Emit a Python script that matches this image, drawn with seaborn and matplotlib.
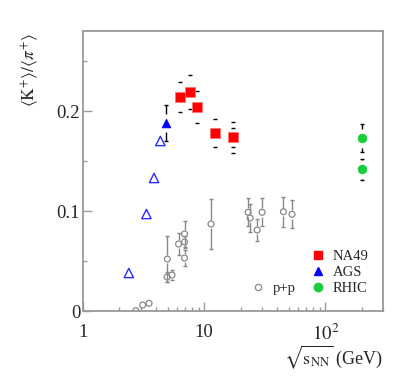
import numpy as np
import seaborn as sns
import matplotlib
matplotlib.use("Agg")
import matplotlib.pyplot as plt
from matplotlib.lines import Line2D
from matplotlib.ticker import LogLocator, MultipleLocator, NullFormatter, FuncFormatter

# --- datos ---
# NA49 (Pb+Pb)
na49_x = [6.3, 7.6, 8.8, 12.3, 17.3]
na49_y = [0.214, 0.219, 0.204, 0.178, 0.174]
na49_err = [0.015, 0.017, 0.016, 0.014, 0.0155]
na49_err_in = [0, 0, 0, 0, 0.0095]

# AGS (Au+Au)
ags_x = [4.85]
ags_y = [0.188]
ags_err = [0.018]
ags_open_x = [2.39, 3.34, 3.86, 4.35]
ags_open_y = [0.038, 0.097, 0.133, 0.170]

# RHIC
rhic_x = [200, 200]
rhic_y = [0.173, 0.142]
rhic_err = [0.014, 0.0105]

# p+p
pp_x = [2.73, 3.11, 3.51, 4.97, 4.95, 5.43, 6.15, 6.89, 6.89, 6.89,
        11.4, 23.1, 24.0, 27.4, 30.1, 45.2, 53.2]
pp_y = [0.0003, 0.006, 0.0077, 0.052, 0.034, 0.036, 0.067, 0.077, 0.069, 0.053,
        0.087, 0.0987, 0.093, 0.081, 0.0987, 0.0993, 0.0967]
pp_err = [0, 0, 0, 0.023, 0.005, 0.005, 0.011, 0.013, 0.006, 0.008,
          0.025, 0.014, 0.014, 0.011, 0.014, 0.015, 0.014]

sns.set_style("ticks")
plt.rcParams['font.family'] = ['Liberation Serif', 'DejaVu Serif']
plt.rcParams['mathtext.fontset'] = 'stix'

fig = plt.figure(figsize=(4.15, 3.89), dpi=100)
ax = fig.add_axes([0.2, 0.2005, 0.7229, 0.7198])
ax.set_xscale('log')


def barras(x, y, err, gap, color, lw=1.0, cap=1.7, linea=True):
    # barras de error con hueco alrededor del marcador (estilo ROOT)
    x = np.asarray(x, float)
    y = np.asarray(y, float)
    err = np.asarray(err, float)
    m = err > 0
    if linea:
        g = err > gap
        ax.vlines(x[g], y[g] + gap, y[g] + err[g], color=color, lw=lw, zorder=2)
        ax.vlines(x[g], y[g] - err[g], y[g] - gap, color=color, lw=lw, zorder=2)
    ax.errorbar(x[m], y[m], yerr=err[m], fmt='none', elinewidth=0,
                capsize=cap, capthick=lw, ecolor=color, zorder=2)


# p+p
barras(pp_x, pp_y, pp_err, 0.0042, '#888888', lw=1.0)
sns.scatterplot(x=pp_x, y=pp_y, ax=ax, marker='o', s=18, facecolors='none',
                edgecolor='#888888', linewidth=0.9, legend=False, zorder=3)

# NA49
barras(na49_x, na49_y, na49_err, 0.01, 'black', lw=1.0, linea=False)
barras(na49_x, na49_y, na49_err_in, 0.01, 'black', lw=1.0, linea=False)
sns.scatterplot(x=na49_x, y=na49_y, ax=ax, marker='s', s=42, color='#ff0000',
                edgecolor='#ff7070', linewidth=0.5, legend=False, zorder=3)

# AGS
barras(ags_x, ags_y, ags_err, 0.009, 'black', lw=1.0)
sns.scatterplot(x=ags_x, y=ags_y, ax=ax, marker='^', s=40, color='#0000ff',
                edgecolor='#0000ff', linewidth=0.5, legend=False, zorder=3)
sns.scatterplot(x=ags_open_x, y=ags_open_y, ax=ax, marker='^', s=45,
                facecolors='none', edgecolor='#2a2aff', linewidth=1.0,
                legend=False, zorder=3)

# RHIC
barras(rhic_x, rhic_y, rhic_err, 0.0095, 'black', lw=1.0)
sns.scatterplot(x=rhic_x, y=rhic_y, ax=ax, marker='o', s=40, color='#18cc3a',
                edgecolor='#18cc3a', linewidth=0.5, legend=False, zorder=3)

# ejes
ax.set_xlim(1, 300)
ax.set_ylim(0, 0.28)
ax.set_xticks([1, 10, 100], labels=['1', '10', '$10^{2}$'])
ax.xaxis.set_minor_locator(LogLocator(base=10, subs=np.arange(2, 10)))
ax.xaxis.set_minor_formatter(NullFormatter())
ax.yaxis.set_major_locator(MultipleLocator(0.1))
ax.yaxis.set_minor_locator(MultipleLocator(0.05))
ax.yaxis.set_major_formatter(FuncFormatter(lambda v, p: '%g' % round(v, 3)))

gris = '#999999'
for s in ax.spines.values():
    s.set_color(gris)
    s.set_linewidth(1.3)
ax.tick_params(which='both', direction='in', color=gris, width=1.0,
               top=False, right=False, labelsize=13.5)
ax.tick_params(which='major', length=6.5)
ax.tick_params(which='minor', length=3.2)
ax.tick_params(axis='x', which='major', pad=9)
ax.tick_params(axis='y', which='major', pad=2)

# titulo del eje y arriba a la izquierda
ax.text(-0.175, 0.993, r'$\langle \mathrm{K}^{+}\rangle/\langle \pi^{+}\rangle$',
        transform=ax.transAxes, rotation=90, ha='center', va='top',
        fontsize=12.5)
ax.set_xlabel(r'$\sqrt{\mathrm{s}_{\mathrm{NN}}}$ (GeV)', fontsize=13,
              loc='right', labelpad=-0.5)

# leyendas
h1 = [Line2D([], [], ls='none', marker='s', ms=6, color='#ff0000'),
      Line2D([], [], ls='none', marker='^', ms=6, color='#0000ff'),
      Line2D([], [], ls='none', marker='o', ms=6, color='#18cc3a')]
leg1 = ax.legend(h1, ['NA49', 'AGS', 'RHIC'], loc='upper left',
                 bbox_to_anchor=(0.76, 0.22), frameon=False, fontsize=10.5,
                 borderpad=0, borderaxespad=0, handlelength=1.0,
                 handletextpad=0.5, labelspacing=0.22)
ax.add_artist(leg1)
h2 = [Line2D([], [], ls='none', marker='o', ms=4.5, mfc='none',
             mec='#888888', mew=0.9)]
ax.legend(h2, ['p+p'], loc='upper left', bbox_to_anchor=(0.56, 0.104),
          frameon=False, fontsize=10.5, borderpad=0, borderaxespad=0,
          handlelength=1.0, handletextpad=0.5)

plt.savefig('out.png', dpi=100)
